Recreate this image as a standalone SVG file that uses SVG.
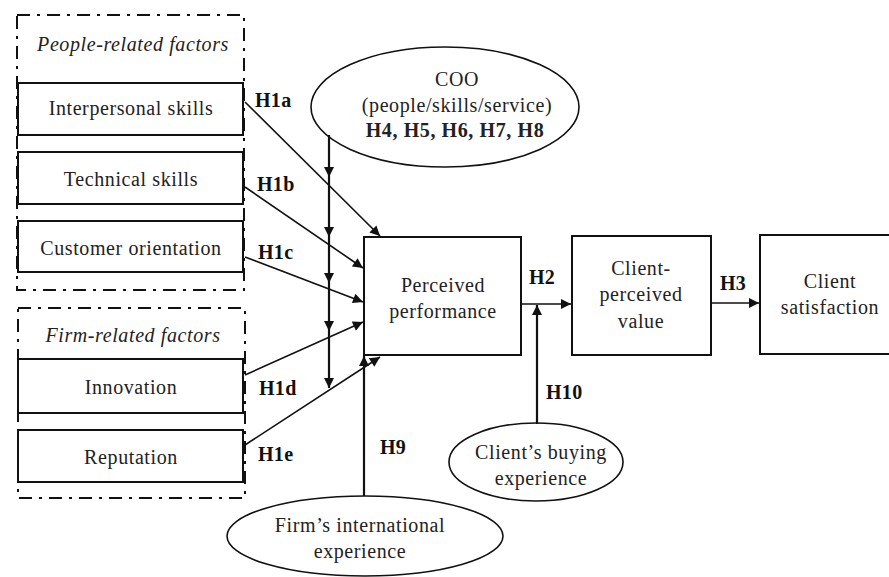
<svg xmlns="http://www.w3.org/2000/svg" width="889" height="577" viewBox="0 0 889 577">
  <defs>
    <marker id="arr" viewBox="0 0 10 10" refX="10" refY="5" markerWidth="11" markerHeight="10" markerUnits="userSpaceOnUse" orient="auto">
      <path d="M0,0 L10,5 L0,10 z" fill="#111"/>
    </marker>
    <style>
      .box { fill: #fff; stroke: #111; stroke-width: 2; }
      .ell { fill: #fff; stroke: #111; stroke-width: 1.6; }
      .group { fill: none; stroke: #111; stroke-width: 2; stroke-dasharray: 13 7 3 7; }
      .t { font-family: "Liberation Serif", "Times New Roman", serif; font-size: 20px; letter-spacing: 0.6px; fill: #222; text-anchor: middle; }
      .it { font-style: italic; }
      .h { font-family: "Liberation Serif", "Times New Roman", serif; font-size: 20px; letter-spacing: 0.3px; font-weight: bold; fill: #111; }
      .c { stroke: #111; stroke-width: 1.6; fill: none; marker-end: url(#arr); }
      .c2 { stroke: #111; stroke-width: 2.2; fill: none; marker-end: url(#arr); }
    </style>
  </defs>
  <rect width="889" height="577" fill="#fff"/>

  <!-- factor groupings -->
  <g id="people-group">
    <rect class="group" x="17" y="15" width="227" height="275"/>
    <text class="t it" x="133" y="51">People-related factors</text>
  </g>
  <g id="firm-group">
    <rect class="group" x="18" y="308" width="227" height="190"/>
    <text class="t it" x="133" y="342">Firm-related factors</text>
  </g>

  <!-- factor nodes -->
  <g id="interpersonal">
    <rect class="box" x="18" y="83" width="225" height="52"/>
    <text class="t" x="131" y="115">Interpersonal skills</text>
  </g>
  <g id="technical">
    <rect class="box" x="18" y="152" width="225" height="52"/>
    <text class="t" x="131" y="186">Technical skills</text>
  </g>
  <g id="customer">
    <rect class="box" x="18" y="221" width="225" height="51"/>
    <text class="t" x="131" y="255">Customer orientation</text>
  </g>
  <g id="innovation">
    <rect class="box" x="18" y="359" width="225" height="54"/>
    <text class="t" x="131" y="394">Innovation</text>
  </g>
  <g id="reputation">
    <rect class="box" x="18" y="430" width="225" height="52"/>
    <text class="t" x="131" y="464">Reputation</text>
  </g>

  <!-- moderators -->
  <g id="coo">
    <ellipse class="ell" cx="445" cy="107" rx="134" ry="60"/>
    <text class="t" x="457" y="86">COO</text>
    <text class="t" x="457" y="112">(people/skills/service)</text>
    <text class="t" x="455" y="137" style="font-weight:bold">H4, H5, H6, H7, H8</text>
  </g>
  <g id="firm-experience">
    <ellipse class="ell" cx="365" cy="536" rx="138" ry="40"/>
    <text class="t" x="360" y="532">Firm’s international</text>
    <text class="t" x="360" y="558">experience</text>
  </g>
  <g id="buying-experience">
    <ellipse class="ell" cx="536" cy="462" rx="87" ry="39"/>
    <text class="t" x="541" y="459">Client’s buying</text>
    <text class="t" x="541" y="485">experience</text>
  </g>

  <!-- outcome nodes -->
  <g id="performance">
    <rect class="box" x="364" y="237" width="157" height="118"/>
    <text class="t" x="443" y="292">Perceived</text>
    <text class="t" x="443" y="318">performance</text>
  </g>
  <g id="value">
    <rect class="box" x="572" y="236" width="139" height="119"/>
    <text class="t" x="641" y="275">Client-</text>
    <text class="t" x="641" y="301">perceived</text>
    <text class="t" x="641" y="328">value</text>
  </g>
  <g id="satisfaction">
    <rect class="box" x="760" y="235" width="130" height="119"/>
    <text class="t" x="830" y="288">Client</text>
    <text class="t" x="830" y="314">satisfaction</text>
  </g>

  <!-- connectors -->
  <g id="connectors">
    <line class="c" x1="245" y1="102" x2="380" y2="236"/>
    <line class="c" x1="245" y1="187" x2="363" y2="268"/>
    <line class="c" x1="245" y1="257" x2="363" y2="302"/>
    <line class="c" x1="245" y1="375" x2="363" y2="322"/>
    <line class="c" x1="245" y1="445" x2="380" y2="357"/>

    <line class="c2" x1="329" y1="135" x2="329" y2="177"/>
    <line class="c2" x1="329" y1="177" x2="329" y2="237"/>
    <line class="c2" x1="329" y1="237" x2="329" y2="283"/>
    <line class="c2" x1="329" y1="283" x2="329" y2="331"/>
    <line class="c2" x1="329" y1="331" x2="329" y2="388"/>

    <line class="c2" x1="364" y1="496" x2="364" y2="356"/>
    <line class="c" x1="521" y1="304" x2="571" y2="304"/>
    <line class="c2" x1="537" y1="424" x2="537" y2="305"/>
    <line class="c" x1="711" y1="303" x2="759" y2="303"/>
  </g>

  <!-- hypothesis labels -->
  <g id="labels">
    <text class="h" x="255" y="107">H1a</text>
    <text class="h" x="257" y="191">H1b</text>
    <text class="h" x="258" y="259">H1c</text>
    <text class="h" x="259" y="395">H1d</text>
    <text class="h" x="258" y="461">H1e</text>
    <text class="h" x="380" y="454">H9</text>
    <text class="h" x="529" y="284">H2</text>
    <text class="h" x="546" y="399">H10</text>
    <text class="h" x="720" y="290">H3</text>
  </g>
</svg>
